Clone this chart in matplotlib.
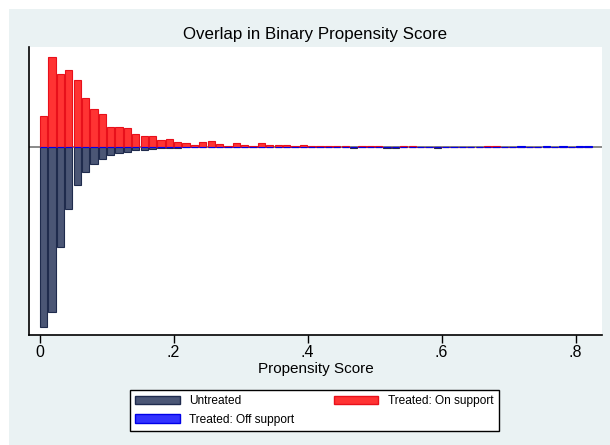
import numpy as np
import matplotlib
matplotlib.use('Agg')
from matplotlib import pyplot as plt
from matplotlib.patches import Patch, Rectangle

plt.rcParams['font.family'] = ['Liberation Sans', 'DejaVu Sans']

# Propensity score histogram, bins of width 0.0125 starting at 0
bin_width = 0.0125

# Treated on support (drawn above the zero line)
treated_on = [3.1, 9.0, 7.3, 7.7, 6.7, 4.9, 3.8, 3.3, 2.0, 2.0,
              1.9, 1.3, 1.1, 1.1, 0.7, 0.8, 0.5, 0.4, 0.2, 0.45,
              0.55, 0.27, 0.07, 0.34, 0.2, 0.07, 0.34, 0.17, 0.17, 0.17,
              0.07, 0.2, 0.1, 0.1, 0.07, 0.1, 0.07, 0, 0.07, 0.1,
              0.07, 0, 0, 0.07, 0.07, 0, 0, 0, 0, 0,
              0, 0, 0, 0.07, 0.07, 0, 0, 0, 0, 0,
              0, 0, 0, 0, 0, 0]

# Treated off support (above the zero line, far right)
treated_off = [0] * 57 + [0.1, 0, 0, 0.1, 0, 0.1, 0, 0.1, 0.1]

# Untreated (drawn below the zero line)
untreated = [18.0, 16.5, 10.0, 6.2, 3.8, 2.5, 1.7, 1.2, 0.86, 0.66,
             0.5, 0.36, 0.3, 0.23, 0.16, 0.1, 0.08, 0.06, 0.05, 0.05,
             0.05, 0.05, 0.05, 0.05, 0.05, 0.05, 0.05, 0.05, 0.05, 0.05,
             0.05, 0.05, 0.05, 0.05, 0.05, 0.05, 0.05, 0.08, 0, 0,
             0, 0.08, 0.08, 0, 0, 0, 0, 0.08, 0, 0,
             0, 0, 0, 0, 0, 0, 0, 0, 0, 0,
             0, 0, 0, 0, 0, 0]

xticks = [0, 0.2, 0.4, 0.6, 0.8]
xtick_labels = ['0', '.2', '.4', '.6', '.8']

centers = (np.arange(len(treated_on)) + 0.5) * bin_width
bw = bin_width * 0.87

fig = plt.figure(figsize=(6.1, 4.45), dpi=100, facecolor='white')

# light bluish graph region behind everything
fig.patches.append(Rectangle((9 / 610, 0), 1, 1 - 9 / 445, transform=fig.transFigure,
                             facecolor='#eaf2f3', edgecolor='none', zorder=-10))

ax = fig.add_axes([29 / 610, 1 - 334.7 / 445, (602 - 29) / 610, (334.7 - 46.7) / 445])
ax.set_facecolor('white')

navy_fc, navy_ec = '#4b5675', '#1f2b4d'
red_fc, red_ec = '#ff3333', '#e8101b'
blue_fc, blue_ec = '#3232ff', '#0000e8'

# zero line sits under the bars so the thin tail bars stay visible
ax.axhline(0, color='#6a6a6a', linewidth=1.1, zorder=1)
ax.bar(centers, -np.array(untreated), width=bw, color=navy_fc, edgecolor=navy_ec,
       linewidth=0.8, zorder=2)
ax.bar(centers, treated_on, width=bw, color=red_fc, edgecolor=red_ec, linewidth=0.8, zorder=2)
ax.bar(centers, treated_off, width=bw, color=blue_fc, edgecolor=blue_ec, linewidth=0.8, zorder=2)

ax.set_xlim(-10.5 / 670, (602 - 39.5) / 670)
ax.set_ylim(-18.79, 10.01)

ax.spines['top'].set_visible(False)
ax.spines['right'].set_visible(False)
ax.spines['left'].set_linewidth(1.2)
ax.spines['bottom'].set_linewidth(1.2)
ax.set_yticks([])
ax.set_xticks(xticks)
ax.set_xticklabels(xtick_labels)
ax.tick_params(axis='x', length=5.5, width=1, pad=2, labelsize=11.5)

fig.text(0.5 * (29 + 602) / 610, 1 - 34 / 445, 'Overlap in Binary Propensity Score',
         ha='center', va='center', fontsize=12.2)
fig.text(0.5 * (29 + 602) / 610, 1 - 369 / 445, 'Propensity Score',
         ha='center', va='center', fontsize=11)

handles = [Patch(facecolor=navy_fc, edgecolor=navy_ec, label='Untreated'),
           Patch(facecolor=blue_fc, edgecolor=blue_ec, label='Treated: Off support'),
           Patch(facecolor=red_fc, edgecolor=red_ec, label='Treated: On support')]
leg = fig.legend(handles=handles, ncol=2, loc='lower left', mode='expand',
                 bbox_to_anchor=(130 / 610, 1 - 431 / 445, 369 / 610, 45 / 445),
                 fontsize=8.6, frameon=True, fancybox=False, framealpha=1,
                 edgecolor='black', handlelength=3.7, handleheight=0.75,
                 handletextpad=0.8, labelspacing=0.55, borderpad=0.45, borderaxespad=0)
leg.get_frame().set_linewidth(1.0)

fig.savefig('out.png', dpi=100)
